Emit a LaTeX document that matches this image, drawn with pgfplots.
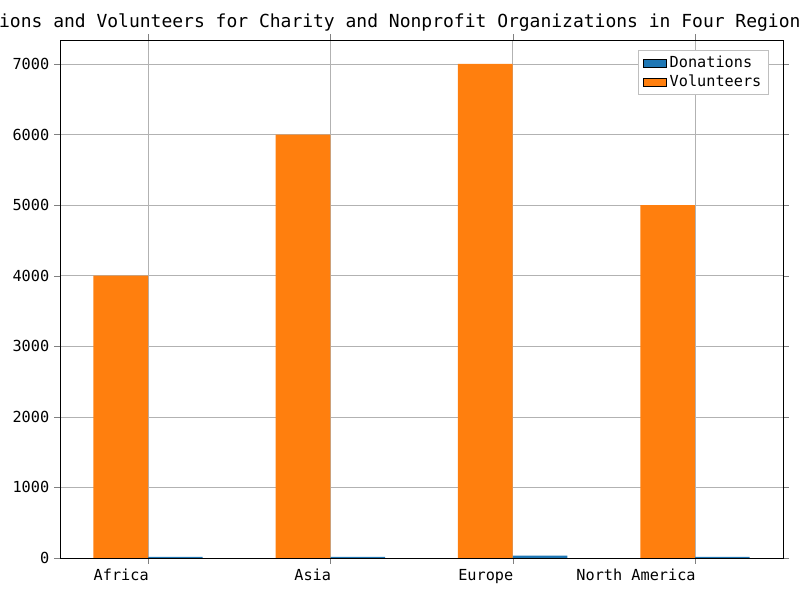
\documentclass[border=0pt]{standalone}
\usepackage{pgfplots}
\pgfplotsset{compat=1.18}
\usepackage{fontspec}
\setmainfont{DejaVu Sans Mono}
\definecolor{c1}{HTML}{1F77B4}
\definecolor{c2}{HTML}{FF7F0E}
\begin{document}
\begin{tikzpicture}
\clip (0,0) rectangle (8in,6in);
\path[use as bounding box] (0,0) rectangle (8in,6in);
\begin{axis}[at={(0.6in,0.42in)},anchor=south west,width=7.23in,height=5.18in,scale only axis,
 xmin=-0.483,xmax=3.483,ymin=0,ymax=7340,
 xtick={0,1,2,3},xticklabels={Africa,Asia,Europe,North America},
 xticklabel style={anchor=north east,xshift=4pt,text height=1.6ex,text depth=0.3ex},
 ytick={0,1000,...,7000},
 grid=major,grid style={gray!60},
 /pgf/number format/assume math mode=true,
 /pgf/number format/1000 sep={},
 tick label style={font=\fontsize{11}{13}\selectfont},
 tick align=outside,
 title={Donations and Volunteers for Charity and Nonprofit Organizations in Four Regions in 2023},
 title style={font=\fontsize{13}{15}\selectfont,yshift=-3pt},
 legend style={at={(0.98,0.98)},anchor=north east,font=\fontsize{11}{13}\selectfont,cells={anchor=west},draw=gray!50},
 area legend]
\addplot[fill=c1,draw=none,ybar,bar width=0.3,bar shift=0.15] coordinates {(0,15)(1,15)(2,35)(3,15)};
\addplot[fill=c2,draw=none,ybar,bar width=0.3,bar shift=-0.15] coordinates {(0,4000)(1,6000)(2,7000)(3,5000)};
\legend{Donations,Volunteers}
\end{axis}
\end{tikzpicture}
\end{document}
